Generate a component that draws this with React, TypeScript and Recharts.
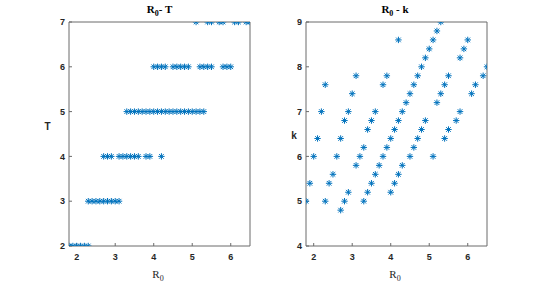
import React from 'react';
import { ScatterChart, Scatter, XAxis, YAxis } from 'recharts';

// R0 / k / T samples, grouped by the T level they land on
const r0T2: number[] = [1.8, 1.9, 2.0, 2.1, 2.2, 2.3];
const kT2: number[] = [5.0, 5.4, 6.0, 6.4, 7.0, 7.6];

const r0T3: number[] = [2.3, 2.4, 2.5, 2.6, 2.7, 2.8, 2.9, 3.0, 3.1];
const kT3: number[] = [5.0, 5.4, 5.6, 6.0, 6.4, 6.8, 7.0, 7.4, 7.8];

const r0T4: number[] = [2.7, 2.8, 2.9, 3.1, 3.2, 3.3, 3.4, 3.5, 3.6, 3.8, 3.9, 4.2];
const kT4: number[] = [4.8, 5.0, 5.2, 5.8, 6.0, 6.2, 6.6, 6.8, 7.0, 7.6, 7.8, 8.6];

const r0T5: number[] = [
  3.3, 3.4, 3.5, 3.6, 3.7, 3.8, 3.9, 4.0, 4.1, 4.2, 4.3,
  4.4, 4.5, 4.6, 4.7, 4.8, 4.9, 5.0, 5.1, 5.2, 5.3,
];
const kT5: number[] = [
  5.0, 5.2, 5.4, 5.6, 5.8, 6.0, 6.2, 6.4, 6.6, 6.8, 7.0,
  7.2, 7.4, 7.6, 7.8, 8.0, 8.2, 8.4, 8.6, 8.8, 9.0,
];

const r0T6: number[] = [4.0, 4.1, 4.2, 4.3, 4.5, 4.6, 4.7, 4.8, 4.9, 5.2, 5.3, 5.4, 5.5, 5.8, 5.9, 6.0];
const kT6: number[] = [5.2, 5.4, 5.6, 5.8, 6.0, 6.2, 6.4, 6.6, 6.8, 7.2, 7.4, 7.6, 7.8, 8.2, 8.4, 8.6];

const r0T7: number[] = [5.1, 5.4, 5.5, 5.7, 5.8, 6.1, 6.2, 6.4, 6.5];
const kT7: number[] = [6.0, 6.4, 6.6, 6.8, 7.0, 7.4, 7.6, 7.8, 8.0];

const xTicks: number[] = [2, 3, 4, 5, 6];
const tTicks: number[] = [2, 3, 4, 5, 6, 7];
const kTicks: number[] = [4, 5, 6, 7, 8, 9];

const groups: { t: number; r0: number[]; k: number[] }[] = [
  { t: 2, r0: r0T2, k: kT2 },
  { t: 3, r0: r0T3, k: kT3 },
  { t: 4, r0: r0T4, k: kT4 },
  { t: 5, r0: r0T5, k: kT5 },
  { t: 6, r0: r0T6, k: kT6 },
  { t: 7, r0: r0T7, k: kT7 },
];

const rows = groups.flatMap((g) => g.r0.map((r0, i) => ({ r0, k: g.k[i], t: g.t })));

const BLUE = '#0072BD';
const AXIS = '#6b6b6b';
const TICK_FONT = { fontFamily: 'Liberation Sans, Arial, sans-serif', fontSize: 9, fontWeight: 700, fill: '#262626' };

const Asterisk = (props: any) => {
  const { cx, cy } = props;
  if (cx == null || cy == null) return <g />;
  const r = 3.2;
  const d = r * 0.72;
  return (
    <g stroke={BLUE} strokeWidth={1}>
      <line x1={cx - r} y1={cy} x2={cx + r} y2={cy} />
      <line x1={cx} y1={cy - r} x2={cx} y2={cy + r} />
      <line x1={cx - d} y1={cy - d} x2={cx + d} y2={cy + d} />
      <line x1={cx - d} y1={cy + d} x2={cx + d} y2={cy - d} />
    </g>
  );
};

interface PanelProps {
  left: number;
  width: number;
  marginLeft: number;
  marginRight: number;
  yKey: string;
  yDomain: [number, number];
  yTicks: number[];
}

const Panel: React.FC<PanelProps> = ({ left, width, marginLeft, marginRight, yKey, yDomain, yTicks }) => (
  <div style={{ position: 'absolute', left, top: 0 }}>
    <ScatterChart
      width={width}
      height={285}
      data={rows}
      margin={{ top: 21, right: marginRight, bottom: 9, left: marginLeft }}
    >
      <XAxis
        xAxisId="b"
        type="number"
        dataKey="r0"
        domain={[1.8, 6.5]}
        ticks={xTicks}
        height={30}
        tickSize={-3}
        tickMargin={11}
        stroke={AXIS}
        tick={TICK_FONT}
        allowDataOverflow
      />
      <XAxis
        xAxisId="t"
        orientation="top"
        type="number"
        dataKey="r0"
        domain={[1.8, 6.5]}
        ticks={xTicks}
        height={1}
        tickSize={-3}
        tick={false}
        stroke={AXIS}
        allowDataOverflow
      />
      <YAxis
        yAxisId="l"
        type="number"
        dataKey={yKey}
        domain={yDomain}
        ticks={yTicks}
        width={30}
        tickSize={-3}
        tickMargin={7}
        stroke={AXIS}
        tick={TICK_FONT}
        allowDataOverflow
      />
      <YAxis
        yAxisId="r"
        orientation="right"
        type="number"
        dataKey={yKey}
        domain={yDomain}
        ticks={yTicks}
        width={1}
        tickSize={-3}
        tick={false}
        stroke={AXIS}
        allowDataOverflow
      />
      <Scatter
        xAxisId="b"
        yAxisId="l"
        dataKey={yKey}
        data={rows}
        shape={Asterisk}
        isAnimationActive={false}
      />
    </ScatterChart>
  </div>
);

const serif = 'Liberation Serif, Times New Roman, serif';
const sans = 'Liberation Sans, Arial, sans-serif';

const App: React.FC = () => (
  <div style={{ position: 'absolute', left: 0, top: 0, width: 538, height: 285, background: '#fff' }}>
    <Panel left={0} width={270} marginLeft={39} marginRight={19} yKey="t" yDomain={[2, 7]} yTicks={tTicks} />
    <Panel left={270} width={268} marginLeft={6} marginRight={50} yKey="k" yDomain={[4, 9]} yTicks={kTicks} />
    <svg
      width={538}
      height={285}
      style={{ position: 'absolute', left: 0, top: 0, pointerEvents: 'none' }}
    >
      <text x={159.5} y={13} textAnchor="middle" fontFamily={serif} fontWeight={700} fontSize={11} fill="#000">
        R<tspan fontSize={8} dy={3}>0</tspan>
        <tspan dy={-3}>- T</tspan>
      </text>
      <text x={395} y={13} textAnchor="middle" fontFamily={serif} fontWeight={700} fontSize={11} fill="#000">
        R<tspan fontSize={8} dy={3}>0</tspan>
        <tspan dy={-3}> - k</tspan>
      </text>
      <text x={158} y={278} textAnchor="middle" fontFamily={serif} fontSize={11} fill="#262626">
        R<tspan fontSize={8} dy={3}>0</tspan>
      </text>
      <text x={395} y={278} textAnchor="middle" fontFamily={serif} fontSize={11} fill="#262626">
        R<tspan fontSize={8} dy={3}>0</tspan>
      </text>
      <text x={47.5} y={130} textAnchor="middle" fontFamily={sans} fontWeight={700} fontSize={10} fill="#262626">
        T
      </text>
      <text x={294} y={139} textAnchor="middle" fontFamily={sans} fontWeight={700} fontSize={10} fill="#262626">
        k
      </text>
    </svg>
  </div>
);

export default App;
